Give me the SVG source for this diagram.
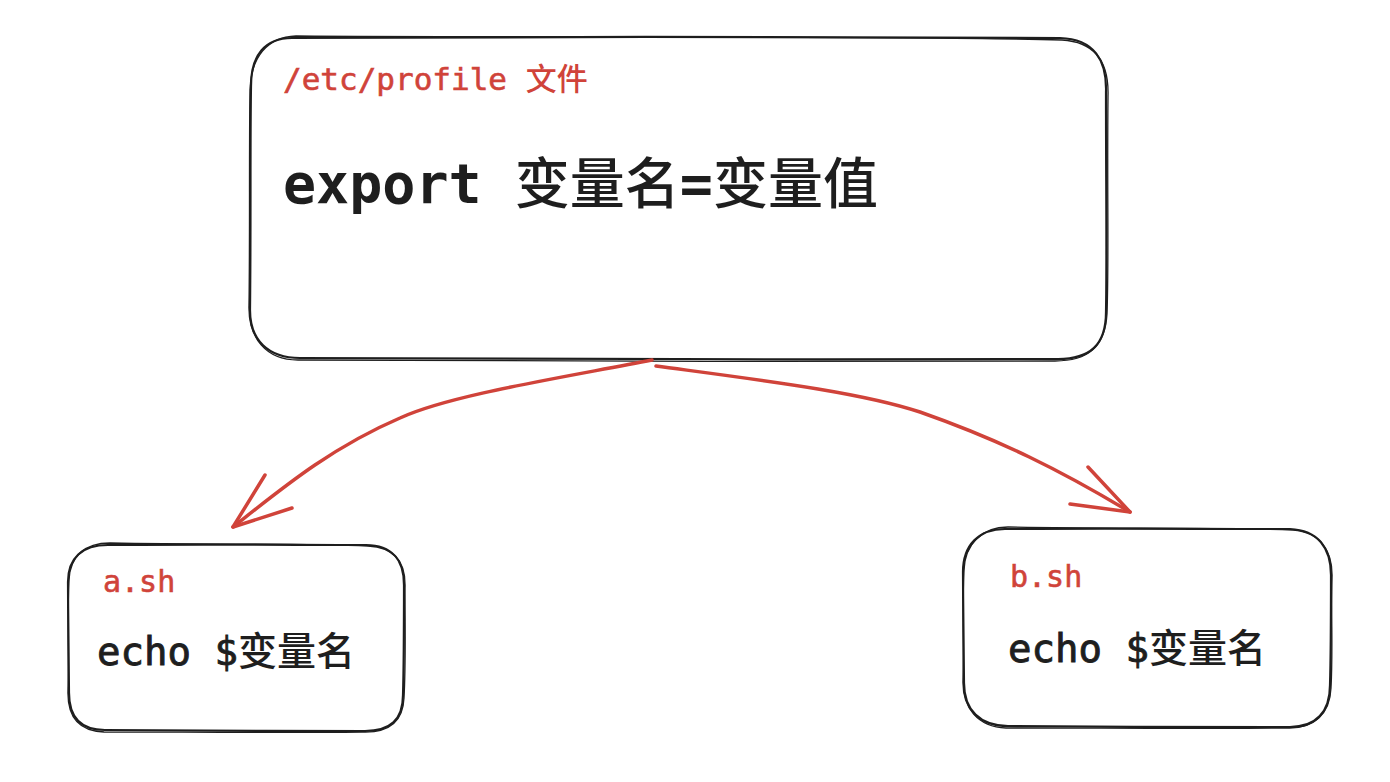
<svg xmlns="http://www.w3.org/2000/svg" width="1390" height="782" viewBox="0 0 1390 782">
<style>
.box{fill:none;stroke:#1e1e1e;stroke-width:2.2;stroke-linecap:round;stroke-linejoin:round}
.box2{fill:none;stroke:#1e1e1e;stroke-width:1.3;stroke-linecap:round;stroke-linejoin:round}
.conn{fill:none;stroke:#d0433a;stroke-width:3.5;stroke-linecap:round;stroke-linejoin:round}
.lbl{font-family:"DejaVu Sans Mono","Liberation Mono","Noto Sans CJK SC",monospace;fill:#d0433a;stroke:#d0433a;stroke-width:0.6}
.code{font-family:"DejaVu Sans Mono","Liberation Mono","Noto Sans CJK SC",monospace;fill:#1e1e1e}
.echo{font-family:"DejaVu Sans Mono","Liberation Mono","Noto Sans CJK SC",monospace;fill:#1e1e1e;stroke:#1e1e1e;stroke-width:0.9}
.cjk{font-family:"Noto Sans CJK SC",sans-serif;font-weight:500;stroke:none}
</style>
<rect width="1390" height="782" fill="#ffffff"/>
<g id="profile">
<path class="box" d="M292 38 C500 36 900 37 1060 38 C1094 39 1107 60 1106 92 C1106 180 1107 260 1106 312 C1106 345 1090 359 1058 359 C800 360 500 359 300 358 C268 358 250 340 250 310 C251 220 250 150 251 86 C251 55 265 38 292 38 Z"/>
<path class="box2" d="M296 36 C520 38 880 35 1062 40 C1097 42 1109 64 1108 96 C1107 190 1109 262 1107 314 C1105 347 1088 361 1055 361 C820 362 520 361 298 360 C266 360 248 338 249 305 C250 230 249 150 250 90 C251 57 267 37 296 36 Z"/>
<text class="lbl" x="283" y="90" font-size="31">/etc/profile <tspan class="cjk" font-weight="400">文件</tspan></text>
<text class="code" x="283" y="203" font-size="55" font-weight="bold">export <tspan class="cjk">变量名</tspan>=<tspan class="cjk">变量值</tspan></text>
</g>
<g id="a_sh">
<path class="box" d="M108 545 C200 544 300 545 366 545 C392 545 404 560 404 585 C404 620 404 660 403 695 C403 720 390 731 365 731 C280 731 180 731 105 730 C80 730 69 717 69 693 C69 660 68 620 68 582 C68 558 82 545 108 545 Z"/>
<path class="box2" d="M110 543 C210 545 300 543 368 546 C394 547 406 562 405 588 C405 625 406 662 404 698 C403 722 388 733 362 732 C280 733 180 732 104 732 C78 731 67 716 68 690 C69 660 67 618 69 580 C70 556 85 543 110 543 Z"/>
<text class="lbl" x="103" y="592" font-size="30">a.sh</text>
<text class="echo" x="97" y="665" font-size="39">echo $<tspan class="cjk">变量名</tspan></text>
</g>
<g id="b_sh">
<path class="box" d="M1005 529 C1100 528 1200 529 1290 529 C1318 530 1331 548 1331 575 C1331 615 1331 650 1330 685 C1330 712 1316 727 1290 727 C1200 727 1100 727 1008 726 C980 726 964 710 964 683 C964 650 963 610 963 572 C963 545 979 529 1005 529 Z"/>
<path class="box2" d="M1008 527 C1110 529 1200 527 1293 530 C1320 532 1333 551 1332 578 C1331 618 1333 652 1331 688 C1330 714 1314 729 1287 728 C1200 729 1100 728 1006 728 C978 727 962 708 963 680 C964 648 962 608 964 570 C965 544 982 527 1008 527 Z"/>
<text class="lbl" x="1010" y="587" font-size="30">b.sh</text>
<text class="echo" x="1008" y="662" font-size="39">echo $<tspan class="cjk">变量名</tspan></text>
</g>
<g id="connectors">
<path class="conn" d="M652 360 C560 378 450 395 400 418 C330 448 280 490 233 527"/>
<path class="conn" d="M233 527 L265 475 M233 527 L292 508"/>
<path class="conn" d="M656 366 C760 380 860 392 920 412 C1000 440 1060 470 1130 512"/>
<path class="conn" d="M1130 512 L1088 467 M1130 512 L1070 504"/>
</g>
</svg>
